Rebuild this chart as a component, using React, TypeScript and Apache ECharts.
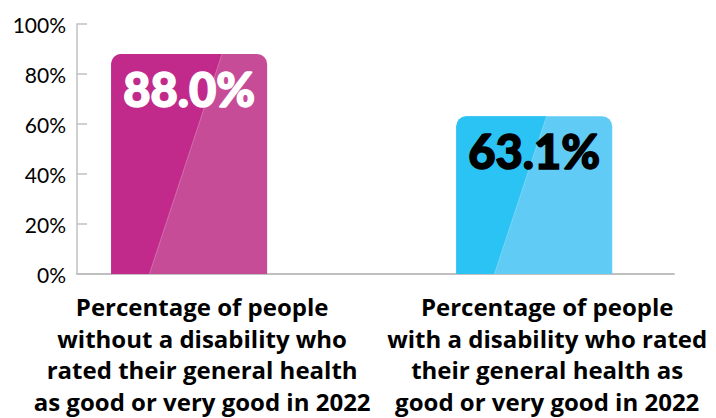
import React, { useEffect, useRef } from "react";
import * as echarts from "echarts";

const categories = [
  "Percentage of people\nwithout a disability who\nrated their general health\nas good or very good in 2022",
  "Percentage of people\nwith a disability who rated\ntheir general health as\ngood or very good in 2022",
];
const values = [88.0, 63.1];
const darkColors = ["#C12A8B", "#2BC3F3"];
const lightColors = ["#C64C98", "#60CBF5"];
const valueLabelColors = ["#ffffff", "#000000"];
const yTicks = [0, 20, 40, 60, 80, 100];

const FONT = "Lato, 'Open Sans', sans-serif";
const CAT_FONT = "'Open Sans', Lato, sans-serif";

export default function App() {
  const ref = useRef<HTMLDivElement>(null);
  useEffect(() => {
    if (!ref.current) return;
    const chart = echarts.init(ref.current, null, { renderer: "svg" });
    const barUnits = 0.452;
    chart.setOption({
      animation: false,
      backgroundColor: "#ffffff",
      grid: { left: 77, right: 42, top: 24, bottom: 144, containLabel: false },
      xAxis: {
        type: "value",
        min: -0.325,
        max: 1.405,
        axisLine: { show: true, onZero: false, lineStyle: { color: "#c0c0c0", width: 2 } },
        axisTick: { show: false },
        axisLabel: { show: false },
        splitLine: { show: false },
      },
      yAxis: {
        type: "value",
        min: yTicks[0],
        max: yTicks[yTicks.length - 1],
        interval: 20,
        axisLine: { show: true, onZero: false, lineStyle: { color: "#c0c0c0", width: 1.5 } },
        axisTick: { show: true, inside: true, length: 10, lineStyle: { color: "#c0c0c0", width: 1.5 } },
        axisLabel: {
          formatter: "{value}%",
          fontSize: 21,
          color: "#000000",
          fontFamily: FONT,
          margin: 11,
        },
        splitLine: { show: false },
      },
      series: [
        {
          type: "custom",
          clip: false,
          data: values.map((v, i) => [i, v]),
          renderItem: (params: any, api: any) => {
            const i = api.value(0);
            const v = api.value(1);
            const top = api.coord([i, v]);
            const base = api.coord([i, 0]);
            const w = api.size([barUnits, 0])[0];
            const cx = top[0];
            const left = cx - w / 2;
            const h = base[1] - top[1];
            const r = 10;
            const bx = left + 0.245 * w;
            const tx = bx + 0.33 * h;
            const lines = categories[i];
            return {
              type: "group",
              children: [
                {
                  type: "rect",
                  shape: { x: left, y: top[1], width: w, height: h, r: [r, r, 0, 0] },
                  style: { fill: lightColors[i] },
                },
                {
                  type: "rect",
                  shape: { x: left, y: top[1], width: tx - left, height: h, r: [r, 0, 0, 0] },
                  style: { fill: darkColors[i] },
                },
                {
                  type: "polygon",
                  shape: { points: [[bx, base[1]], [tx, top[1]], [tx + 0.5, top[1]], [tx + 0.5, base[1]]] },
                  style: { fill: lightColors[i] },
                },
                {
                  type: "line",
                  shape: { x1: bx, y1: base[1], x2: tx, y2: top[1] },
                  style: { stroke: "rgba(255,255,255,0.25)", lineWidth: 1 },
                },
                {
                  type: "text",
                  style: {
                    text: v.toFixed(1) + "%",
                    x: cx,
                    y: top[1] + 11,
                    align: "center",
                    verticalAlign: "top",
                    fill: valueLabelColors[i],
                    stroke: valueLabelColors[i],
                    lineWidth: 1.5,
                    fontSize: 47,
                    fontWeight: 900,
                    fontFamily: FONT,
                  },
                },
                {
                  type: "text",
                  style: {
                    text: lines,
                    x: cx + 13,
                    y: base[1] + 17,
                    align: "center",
                    verticalAlign: "top",
                    fill: "#000000",
                    fontSize: 24,
                    fontWeight: "bold",
                    lineHeight: 31.5,
                    fontFamily: CAT_FONT,
                  },
                },
              ],
            };
          },
        },
      ],
    });
    return () => chart.dispose();
  }, []);
  return (
    <div
      ref={ref}
      style={{ position: "fixed", left: 0, top: 0, width: 716, height: 418 }}
    />
  );
}
